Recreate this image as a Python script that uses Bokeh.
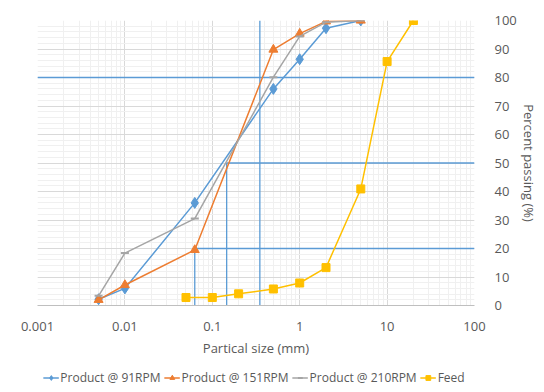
from bokeh.plotting import figure
from bokeh.layouts import column
from bokeh.models import (Range1d, FixedTicker, Legend, LegendItem, CustomJSTickFormatter)
from bokeh.embed import file_html
from bokeh.resources import INLINE

# ---- data ----
size_product = [0.005, 0.01, 0.063, 0.5, 1, 2, 5]
pass_91 = [2.2, 6.0, 36.0, 76.0, 86.4, 97.3, 100.0]
pass_151 = [2.0, 7.2, 19.5, 89.8, 95.4, 99.7, 100.0]
pass_210 = [3.4, 18.4, 30.5, 80.1, 94.4, 99.4, 100.0]

size_feed = [0.05, 0.1, 0.2, 0.5, 1, 2, 5, 10, 20]
pass_feed = [2.8, 2.8, 4.1, 5.8, 7.9, 13.3, 40.9, 85.6, 100.0]

# reference (d80, d50, d20) guide lines
ref_levels = [80, 50, 20]
ref_sizes = [0.35, 0.146, 0.063]

x_ticks = [0.001, 0.01, 0.1, 1, 10, 100]
x_tick_labels = ["0.001", "0.01", "0.1", "1", "10", "100"]
y_ticks = [0, 10, 20, 30, 40, 50, 60, 70, 80, 90, 100]

series_names = ["Product @ 91RPM", "Product @ 151RPM", "Product @ 210RPM", "Feed"]

FONT = "Open Sans"
TXT = "#595959"
BLUE = "#5B9BD5"
ORANGE = "#ED7D31"
GRAY = "#A5A5A5"
GOLD = "#FFC000"

p = figure(frame_width=437, frame_height=285, x_axis_type="log", y_axis_location="right",
           x_range=Range1d(x_ticks[0], x_ticks[-1]), y_range=Range1d(0, 100),
           output_backend="svg", toolbar_location=None,
           min_border_left=37, min_border_right=62, min_border_top=20, min_border_bottom=61)
p.outline_line_color = None
p.background_fill_color = "white"
p.border_fill_color = "white"

# ticks
minor = [m * d for d in x_ticks[:-1] for m in range(2, 10)]
p.xaxis.ticker = FixedTicker(ticks=x_ticks, minor_ticks=minor)
p.xaxis.formatter = CustomJSTickFormatter(code="return String(tick)")
p.xaxis.major_label_overrides = dict(zip(x_ticks, x_tick_labels))
p.yaxis.ticker = FixedTicker(ticks=y_ticks, minor_ticks=list(range(0, 101, 2)))

for ax in (p.xaxis[0], p.yaxis[0]):
    ax.major_tick_line_color = None
    ax.minor_tick_line_color = None
    ax.major_label_text_font = FONT
    ax.major_label_text_font_size = "13px"
    ax.major_label_text_color = TXT
    ax.axis_label_text_font = FONT
    ax.axis_label_text_font_size = "13px"
    ax.axis_label_text_color = TXT
    ax.axis_label_text_font_style = "normal"
    ax.major_tick_out = 0
    ax.major_tick_in = 0

p.xaxis.axis_line_color = "#BFBFBF"
p.yaxis.axis_line_color = None
p.xaxis.major_label_standoff = 12
p.yaxis.major_label_standoff = 16
p.xaxis.axis_label = "Partical size (mm)"
p.yaxis.axis_label = "Percent passing (%)"
p.xaxis.axis_label_standoff = 5
p.yaxis.axis_label_standoff = 0

p.xgrid.grid_line_color = "#D9D9D9"
p.ygrid.grid_line_color = "#D9D9D9"
p.xgrid.minor_grid_line_color = "#F0F0F0"
p.ygrid.minor_grid_line_color = "#F0F0F0"

# guide lines
xmin, xmax = x_ticks[0], x_ticks[-1]
h_x0 = [xmin] + ref_sizes[1:]
p.segment(x0=h_x0, y0=ref_levels, x1=[xmax] * 3, y1=ref_levels, line_color=BLUE, line_width=1.3)
v_y1 = [100] + ref_levels[1:]
p.segment(x0=ref_sizes, y0=[0] * 3, x1=ref_sizes, y1=v_y1, line_color=BLUE, line_width=1.3)

# series
styles = [
    (size_product, pass_91, BLUE, dict(marker="diamond", size=11, color=BLUE)),
    (size_product, pass_151, ORANGE, dict(marker="triangle", size=9, color=ORANGE)),
    (size_product, pass_210, GRAY, dict(marker="dash", size=8, line_color=GRAY, line_width=2)),
    (size_feed, pass_feed, GOLD, dict(marker="square", size=8, color=GOLD)),
]
for xs, ys, col, mk in styles:
    p.line(xs, ys, line_color=col, line_width=1.5)
    p.scatter(xs, ys, **mk)

# legend strip: a small figure whose view range excludes all the data,
# so only the legend (with its swatches) is visible
lf = figure(width=536, height=22, x_range=Range1d(-2, -1), y_range=Range1d(-2, -1),
            output_backend="svg", toolbar_location=None,
            x_axis_location=None, y_axis_location=None,
            min_border_left=0, min_border_right=0, min_border_top=0, min_border_bottom=0)
lf.outline_line_color = None
lf.xgrid.visible = False
lf.ygrid.visible = False
items = []
for name, (xs, ys, col, mk) in zip(series_names, styles):
    lr = lf.line(xs, ys, line_color=col, line_width=1.5)
    sr = lf.scatter(xs, ys, **mk)
    items.append(LegendItem(label=name, renderers=[lr, sr]))

legend = Legend(items=items, orientation="horizontal", location="center",
                label_text_font=FONT, label_text_font_size="12px", label_text_color=TXT,
                glyph_width=16, glyph_height=12, label_standoff=2, spacing=3,
                padding=2, margin=0, border_line_color=None, background_fill_alpha=0)
lf.add_layout(legend, "center")

layout = column(p, lf, spacing=0)
open("out.html", "w").write(file_html(layout, INLINE))
